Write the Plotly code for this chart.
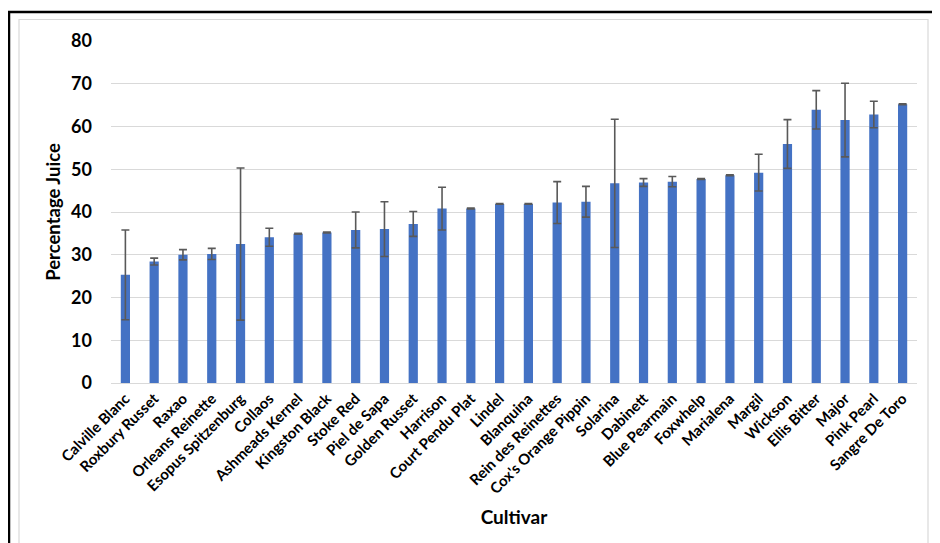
import plotly.graph_objects as go

cultivars = ["Calville Blanc", "Roxbury Russet", "Raxao", "Orleans Reinette",
             "Esopus Spitzenburg", "Collaos", "Ashmeads Kernel", "Kingston Black",
             "Stoke Red", "Piel de Sapa", "Golden Russet", "Harrison",
             "Court Pendu Plat", "Lindel", "Blanquina", "Rein des Reinettes",
             "Cox's Orange Pippin", "Solarina", "Dabinett", "Blue Pearmain",
             "Foxwhelp", "Marialena", "Margil", "Wickson", "Ellis Bitter",
             "Major", "Pink Pearl", "Sangre De Toro"]
juice_pct = [25.3, 28.4, 30.0, 30.2, 32.5, 34.1, 34.9, 35.2, 35.8, 36.0, 37.2,
             40.8, 40.8, 41.9, 41.9, 42.2, 42.4, 46.7, 46.9, 47.1, 47.7, 48.6,
             49.2, 55.9, 63.9, 61.5, 62.8, 65.2]
juice_err = [10.5, 0.8, 1.2, 1.3, 17.8, 2.1, 0.1, 0.1, 4.2, 6.4, 2.9, 5.0, 0.1,
             0.1, 0.1, 4.9, 3.6, 15.0, 0.9, 1.2, 0.1, 0.1, 4.3, 5.7, 4.5, 8.6,
             3.1, 0.1]
y_ticks = [0, 10, 20, 30, 40, 50, 60, 70, 80]

# page body has an 8px default margin; work in screen pixels and shift
OFF = 8
W, H = 940 - OFF, 543 - OFF
L, R, T = 111 - OFF, 23, 41 - OFF
B = H - (383.3 - OFF)
pw, ph = W - L - R, H - T - B

def px(x):
    return (x - OFF - L) / pw

def py(y):
    return (H - B - (y - OFF)) / ph

font = "Lato, 'Open Sans', sans-serif"

fig = go.Figure(go.Bar(
    x=cultivars, y=juice_pct,
    marker=dict(color="#4472C4", line=dict(width=0)),
    error_y=dict(type="data", array=juice_err, visible=True,
                 color="#595959", thickness=1.6, width=4),
))

fig.update_layout(
    width=W, height=H,
    margin=dict(l=L, r=R, t=T, b=B),
    paper_bgcolor="white", plot_bgcolor="white",
    bargap=0.68,
    showlegend=False,
    font=dict(family=font, color="#000000"),
    xaxis=dict(
        tickangle=-45,
        tickfont=dict(size=15, family=font, color="#000000", weight="bold"),
        showgrid=False, showline=True, linecolor="#d9d9d9", linewidth=1,
        ticks="",
        title=dict(text="<b>Cultivar</b>", font=dict(size=19), standoff=14),
    ),
    yaxis=dict(
        range=[0, 80], tickvals=y_ticks,
        tickfont=dict(size=18, family=font, color="#000000", weight="bold"),
        showgrid=True, gridcolor="#d9d9d9", gridwidth=1,
        zeroline=False, ticks="", ticklabelstandoff=18,
        title=dict(text="<b>Percentage Juice</b>", font=dict(size=18.5), standoff=5),
    ),
    shapes=[
        dict(type="rect", xref="paper", yref="paper",
             x0=px(9), x1=px(937), y0=py(560), y1=py(12),
             line=dict(color="black", width=2.5), fillcolor="rgba(0,0,0,0)",
             layer="below"),
        dict(type="rect", xref="paper", yref="paper",
             x0=px(19), x1=px(928), y0=py(560), y1=py(19.5),
             line=dict(color="#d9d9d9", width=1.2), fillcolor="rgba(0,0,0,0)",
             layer="below"),
    ],
)

fig.write_html("out.html")
